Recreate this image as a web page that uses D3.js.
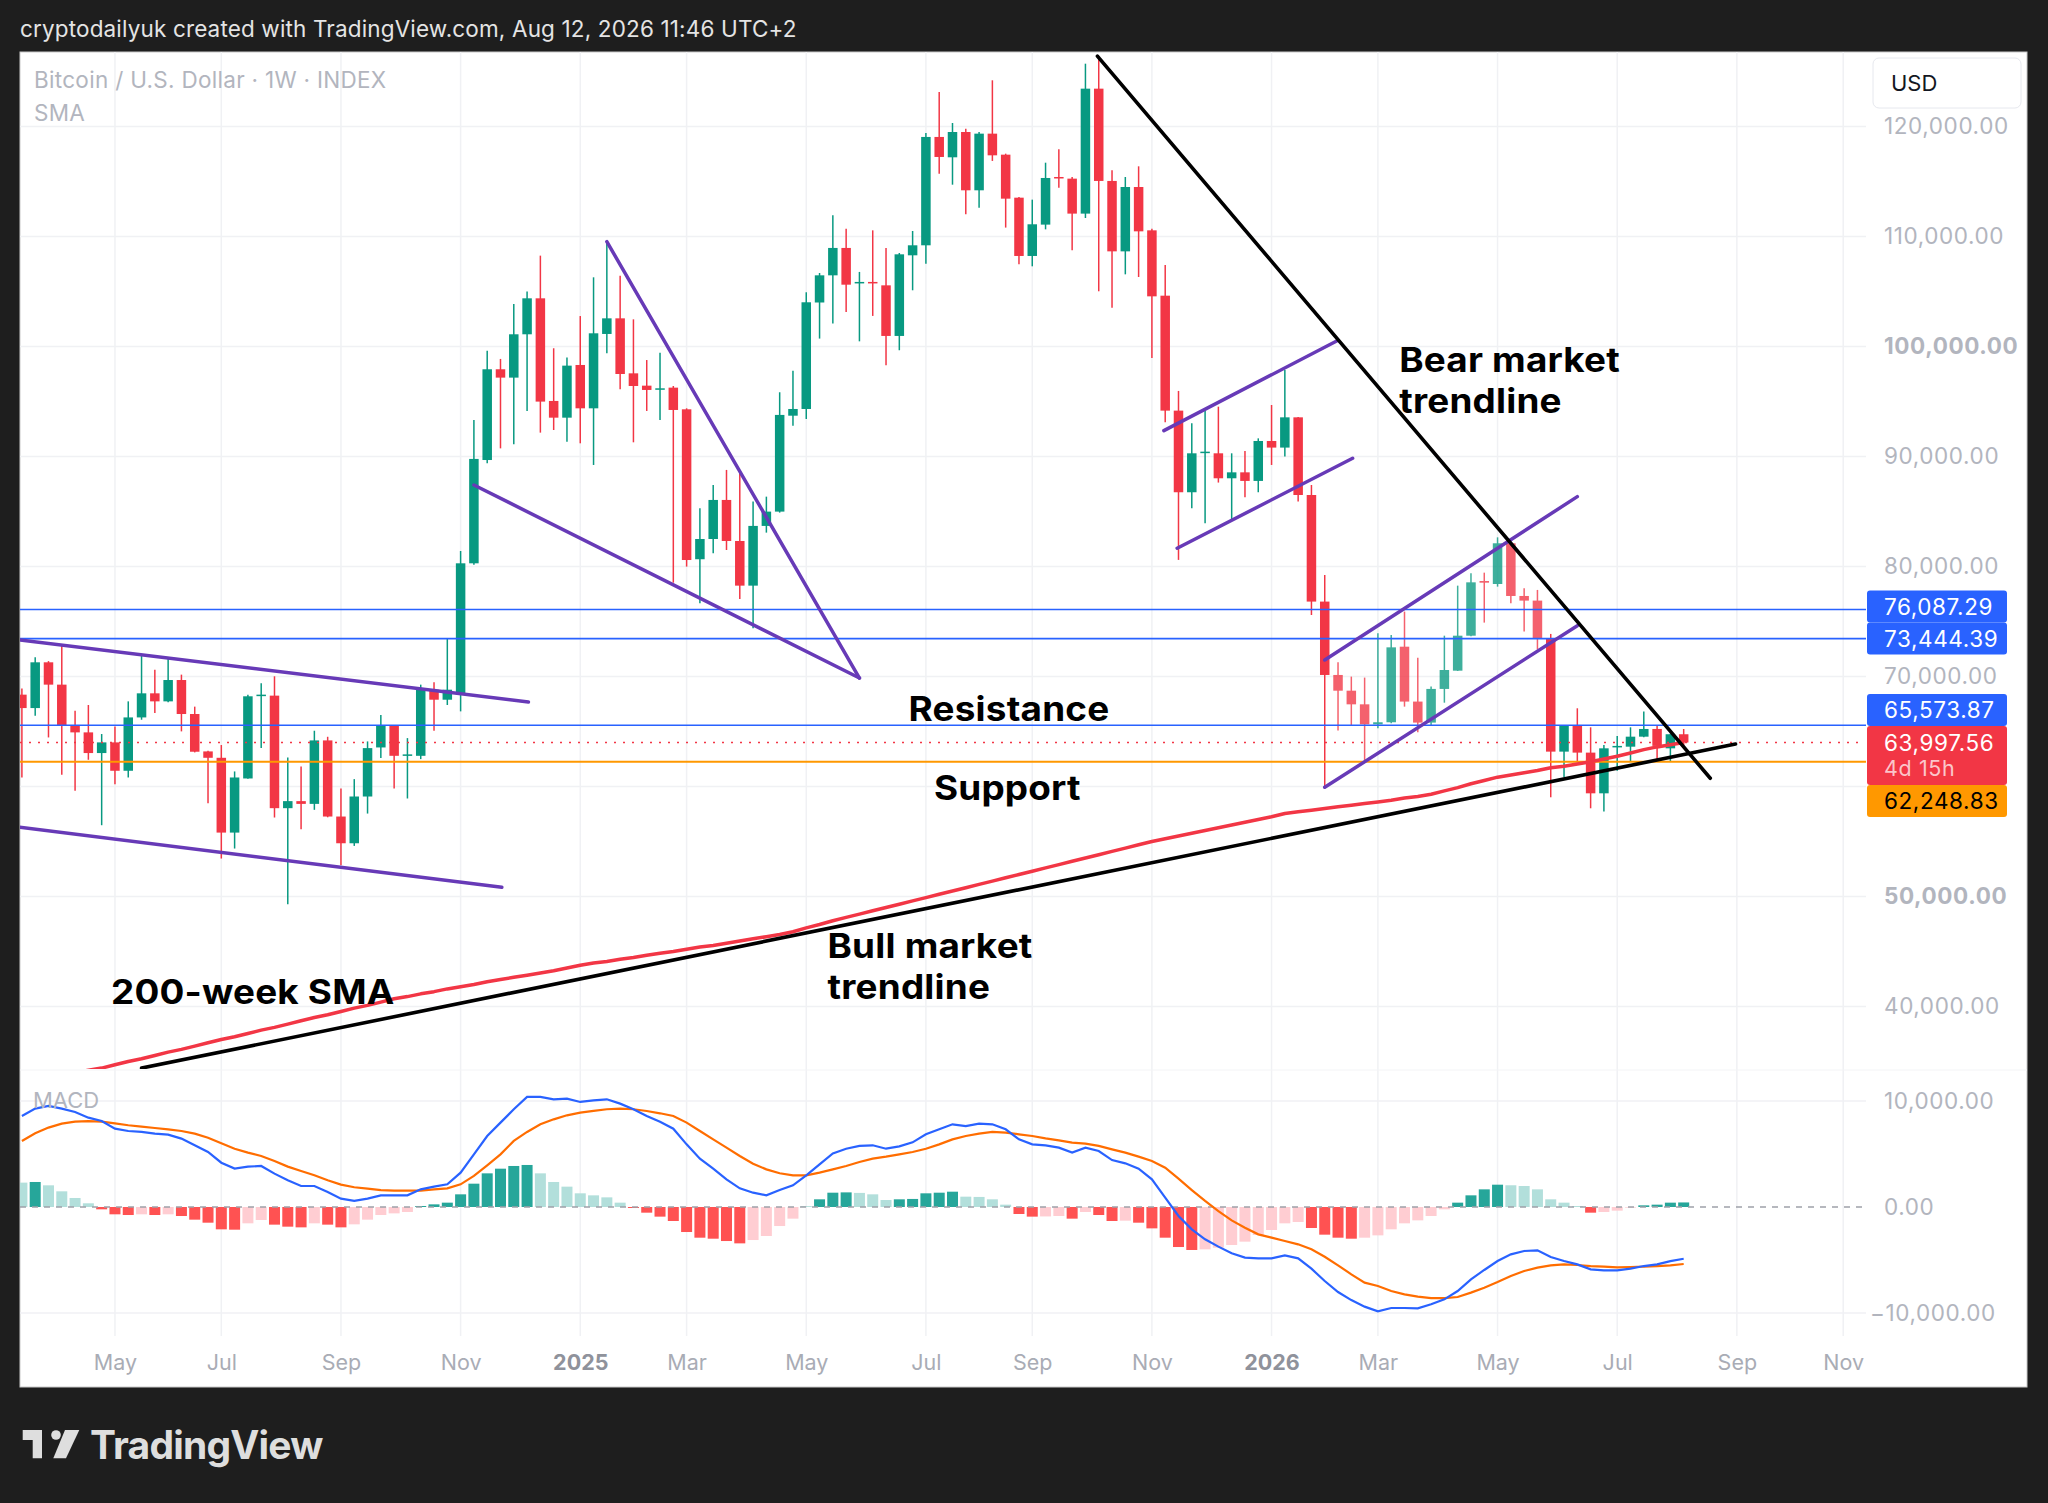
<!DOCTYPE html>
<html lang="en">
<head>
<meta charset="utf-8" />
<title>Bitcoin / U.S. Dollar 1W</title>
<script src="https://d3js.org/d3.v7.min.js"></script>
<style>
  html, body { margin: 0; padding: 0; background: #1e1e1e; }
  svg { display: block; font-family: Inter, "Noto Sans", sans-serif; }
</style>
</head>
<body>
<svg id="chart" width="2048" height="1503"></svg>
<script>
// weekly bars, bar 0 = week of 18 Mar 2024
const firstWeek = "2024-03-18";

const opens = [68350, 67130, 71290, 69260, 65590, 64920, 63040, 64010, 61430, 66280,
  68470, 67740, 69680, 66590, 63190, 62610, 55810, 60730, 68260, 68260,
  58030, 58670, 58420, 64190, 57270, 54840, 59090, 63550, 65530, 62820,
  62790, 68800, 67890, 68350, 80290, 89680, 97930, 97170, 101110, 104380,
  95050, 93530, 98320, 94380, 101140, 102560, 97560, 96440, 96110, 96260,
  94290, 80660, 82500, 86050, 82320, 78260, 83690, 84990, 93710, 94320,
  104000, 106470, 108960, 105780, 105870, 105560, 100960, 108290, 109200, 119050,
  117200, 119500, 114200, 119350, 117440, 113530, 108230, 111080, 115410, 115260,
  112080, 123440, 115050, 108650, 114500, 110560, 104620, 94170, 86750, 90350,
  90290, 88020, 88560, 87780, 91410, 90810, 93560, 86500, 76810, 70140,
  68710, 67470, 65650, 65840, 72710, 67720, 65810, 68870, 70530, 73710,
  78680, 78410, 82110, 77320, 76900, 73470, 63170, 65530, 63080, 59380,
  63560, 63620, 64530, 65230, 63470, 64750];

const highs = [68920, 71750, 71400, 72810, 66890, 67410, 64770, 65460, 67740, 71960,
  70620, 71660, 70170, 67260, 63250, 63770, 61370, 68350, 69380, 70020,
  62640, 61820, 65070, 64520, 59820, 60670, 64100, 66500, 65600, 64400,
  69260, 69470, 73480, 81410, 93320, 99620, 98870, 103860, 104990, 108260,
  99840, 98990, 102770, 106290, 109620, 106440, 102470, 98770, 99440, 96410,
  94380, 85290, 87410, 88780, 88470, 85900, 86350, 95840, 97800, 104930,
  106680, 111930, 110710, 106780, 110560, 108960, 108500, 110500, 119410, 123140,
  120320, 119800, 119500, 124200, 117530, 113590, 113350, 116710, 117930, 115410,
  125710, 126410, 116020, 115410, 116380, 110710, 107410, 95960, 93020, 94170,
  94530, 90290, 90500, 91650, 94680, 97870, 93600, 87410, 79230, 71290,
  69990, 69900, 73930, 73770, 75900, 71710, 69080, 73710, 78260, 79380,
  79440, 82650, 82260, 78020, 77870, 73870, 65600, 67110, 65380, 63780,
  64590, 65380, 66810, 65530, 64800, 65230];

const lows = [60820, 66440, 64460, 61060, 59610, 62430, 56480, 60210, 60820, 66070,
  66680, 67650, 65010, 63100, 58480, 53450, 54360, 60700, 63490, 57180,
  49290, 56120, 57880, 57200, 52840, 54600, 57540, 62580, 59820, 58910,
  62490, 65070, 67410, 66830, 80150, 89380, 90740, 91110, 94140, 92170,
  92410, 91350, 91200, 89230, 99380, 96110, 91290, 94140, 93320, 78530,
  79990, 76660, 81200, 81500, 77050, 74380, 83080, 84900, 92800, 93410,
  100720, 102080, 103140, 100470, 102780, 98290, 99660, 105110, 107530, 115710,
  114710, 112020, 112620, 116870, 110810, 107470, 107290, 110650, 114440, 108750,
  111680, 105020, 103530, 106560, 106320, 98960, 93110, 80600, 85290, 83930,
  87630, 84320, 86290, 86750, 89230, 89990, 85900, 75590, 59840, 65080,
  65500, 62260, 65290, 65750, 67260, 64930, 65590, 67620, 70500, 73650,
  74900, 78170, 76650, 74080, 72470, 59020, 60840, 62260, 58020, 57720,
  61440, 62260, 64470, 62470, 62260, 63620];

const closes = [67130, 71290, 69260, 65590, 64920, 63040, 64010, 61430, 66280, 68470,
  67740, 69680, 66590, 63160, 62610, 55810, 60820, 68200, 68350, 58030,
  58670, 58420, 64190, 57270, 54840, 59090, 63490, 65530, 62790, 62920,
  68800, 67890, 68800, 80290, 89780, 97930, 97170, 101110, 104380, 94990,
  93530, 98260, 94380, 101200, 102560, 97500, 96410, 96050, 96200, 94230,
  80590, 82500, 86050, 82320, 78260, 83690, 84990, 93780, 94320, 104020,
  106470, 108960, 105620, 105870, 105780, 100960, 108380, 109200, 119050, 117230,
  119500, 114200, 119350, 117380, 113440, 108230, 111110, 115320, 115320, 112080,
  123440, 115050, 108650, 114500, 110470, 104560, 94170, 86750, 90290, 90440,
  88020, 88560, 87780, 91410, 90810, 93560, 86500, 76810, 70140, 68710,
  67470, 65650, 65840, 72650, 67720, 65810, 68870, 70590, 73710, 78560,
  78530, 82110, 77320, 76900, 73470, 63170, 65530, 63080, 59380, 63470,
  63690, 64530, 65230, 63690, 64750, 63997.56];

// 200-week simple moving average
const sma200 = [33200, 33400, 33600, 33800, 34000, 34200, 34400, 34700, 35000, 35250,
  35550, 35850, 36100, 36400, 36700, 37000, 37250, 37550, 37850, 38100,
  38400, 38700, 39000, 39250, 39550, 39850, 40100, 40400, 40700, 40900,
  41150, 41350, 41600, 41800, 42000, 42250, 42450, 42650, 42850, 43050,
  43250, 43500, 43750, 43950, 44100, 44300, 44450, 44650, 44850, 45000,
  45200, 45400, 45550, 45750, 45950, 46150, 46350, 46550, 46800, 47150,
  47450, 47800, 48100, 48400, 48700, 49000, 49300, 49600, 49900, 50200,
  50500, 50800, 51100, 51400, 51700, 52000, 52300, 52600, 52900, 53200,
  53500, 53800, 54100, 54400, 54700, 55000, 55250, 55500, 55750, 56000,
  56250, 56500, 56750, 57000, 57250, 57550, 57700, 57850, 58000, 58150,
  58300, 58450, 58600, 58750, 58950, 59100, 59300, 59600, 59900, 60250,
  60550, 60850, 61050, 61250, 61450, 61700, 61850, 62050, 62250, 62500,
  62750, 63050, 63350, 63600, 63800, 64000];

// MACD pane
const macdLine = [8590, 9280, 9530, 9280, 8960, 8430, 8110, 7390, 7170, 7080,
  6920, 6830, 6450, 5820, 5190, 4180, 3620, 3800, 3870, 3150,
  2520, 1980, 1980, 1420, 790, 570, 790, 1100, 1100, 1100,
  1670, 1920, 2140, 3240, 4970, 6700, 7960, 9220, 10380, 10380,
  10160, 10220, 9910, 10060, 10160, 9750, 9220, 8590, 8050, 7390,
  5910, 4560, 3620, 2610, 1760, 1350, 1100, 1600, 2050, 2990,
  4030, 5060, 5500, 5760, 5820, 5500, 5720, 6100, 6860, 7330,
  7800, 7640, 7860, 7800, 7330, 6380, 5910, 5820, 5600, 5130,
  5600, 5280, 4430, 4120, 3620, 2610, 880, -850, -2110, -3050,
  -3740, -4370, -4780, -4840, -4840, -4560, -4840, -5820, -6980, -8020,
  -8780, -9400, -9840, -9530, -9530, -9560, -9180, -8710, -7930, -6830,
  -5940, -5100, -4470, -4150, -4090, -4720, -5100, -5410, -5880, -5980,
  -5980, -5820, -5570, -5410, -5100, -4880];

const signalLine = [6230, 6950, 7490, 7860, 8050, 8110, 8050, 7890, 7710, 7580,
  7450, 7330, 7170, 6920, 6540, 6010, 5500, 5130, 4810, 4340,
  3810, 3400, 2990, 2520, 2110, 1860, 1730, 1600, 1540, 1540,
  1540, 1670, 1760, 2140, 2930, 3930, 4970, 6230, 7080, 7800,
  8270, 8650, 8900, 9060, 9220, 9280, 9220, 9060, 8840, 8590,
  7960, 7170, 6380, 5600, 4810, 4090, 3550, 3180, 2990, 2990,
  3240, 3550, 3870, 4250, 4560, 4750, 4970, 5190, 5500, 5910,
  6380, 6700, 6920, 7080, 7010, 6860, 6700, 6480, 6290, 6070,
  5980, 5760, 5440, 5130, 4750, 4340, 3710, 2670, 1600, 570,
  -380, -1260, -1950, -2580, -2890, -3210, -3520, -3990, -4690, -5500,
  -6350, -7140, -7450, -7930, -8240, -8460, -8590, -8590, -8490, -8080,
  -7610, -7080, -6510, -6040, -5720, -5500, -5410, -5470, -5570, -5630,
  -5690, -5660, -5630, -5570, -5500, -5380];

const histogram = [2300, 2360, 2045, 1480, 850, 350, -220, -690, -755, -690,
  -755, -690, -850, -1195, -1480, -2107, -2140, -1540, -1225, -1665,
  -1855, -1920, -1540, -1665, -1920, -1635, -1195, -755, -600, -470,
  95, 250, 410, 1195, 2200, 3175, 3615, 3870, 3965, 3175,
  2360, 1920, 1290, 1100, 910, 410, -95, -535, -910, -1320,
  -2360, -2895, -2990, -3210, -3430, -3115, -2735, -1795, -1100, 30,
  725, 1350, 1380, 1330, 1195, 660, 725, 760, 1290, 1350,
  1445, 975, 950, 725, 220, -660, -910, -890, -850, -1100,
  -470, -755, -1320, -1290, -1480, -2015, -2895, -3775, -4055, -3995,
  -3835, -3585, -3270, -2640, -2170, -1540, -1415, -1980, -2610, -2895,
  -2990, -2895, -2675, -2105, -1540, -1260, -850, -220, 410, 1100,
  1665, 2105, 2050, 1980, 1665, 725, 410, 95, -535, -470,
  -345, -60, 155, 220, 410, 430];

// axis ticks
const priceTicks = [40000, 50000, 60000, 70000, 80000, 90000, 100000, 110000, 120000];
const macdTicks = [-10000, 0, 10000];
const timeTickDates = ["2024-05-06", "2024-07-01", "2024-09-02", "2024-11-04", "2025-01-06",
  "2025-03-03", "2025-05-05", "2025-07-07", "2025-09-01", "2025-11-03", "2026-01-05",
  "2026-03-02", "2026-05-04", "2026-07-06", "2026-09-07", "2026-11-02"];
const timeTickLabels = ["May", "Jul", "Sep", "Nov", "2025", "Mar", "May", "Jul", "Sep", "Nov",
  "2026", "Mar", "May", "Jul", "Sep", "Nov"];

// horizontal levels drawn on the chart
const resistanceLevels = [76087.29, 73444.39, 65573.87];
const supportLevel = 62248.83;
const lastPrice = closes[closes.length - 1];

// drawn trendlines as [bar, price] end points
const bearTrend = [[80.9, 126400], [127.0, 60750]];
const bullTrend = [[9.0, 34400], [128.9, 63860]];
const purpleLines = [
  [[-1, 73450], [38.1, 67680]],
  [[-1, 56420], [36.1, 50840]],
  [[34.0, 87410], [63.0, 69860]],
  [[44.0, 109530], [63.0, 69860]],
  [[85.9, 92350], [98.9, 100500]],
  [[86.9, 81660], [100.1, 89840]],
  [[98.0, 71500], [117.0, 86350]],
  [[98.0, 59930], [117.0, 74620]]
];

// chart notes as [bar, price] anchors
const notes = [
  {lines: ["Bear market", "trendline"], at: [103.6, 97650]},
  {lines: ["Resistance"], at: [66.7, 65950]},
  {lines: ["Support"], at: [68.6, 58770]},
  {lines: ["Bull market", "trendline"], at: [60.6, 44380]},
  {lines: ["200-week SMA"], at: [6.7, 40230]}
];

// ---------- layout ----------
const W = 2048, H = 1503;
const plotL = 20, plotR = 1866, mainTop = 52, mainBottom = 1069, macdTop = 1071, macdBottom = 1336;
const upColor = "#089981", downColor = "#f23645";
const gridColor = "#f0f1f4", axisText = "#b2b5be";
const axisFont = "Inter, 'Noto Sans', sans-serif";

const parseDay = d3.utcParse("%Y-%m-%d");
const week0 = parseDay(firstWeek);
const barTime = i => new Date(week0.getTime() + i * 7 * 864e5);

const x = d3.scaleUtc()
  .domain([parseDay("2024-03-17"), parseDay("2026-11-14")])
  .range([plotL, plotR]);
const y = d3.scaleLinear().domain([40000, 120000]).range([1006.5, 126.5]);
const ym = d3.scaleLinear().domain([-10000, 10000]).range([1313, 1101]);

const svg = d3.select("#chart");
svg.append("rect").attr("width", W).attr("height", H).attr("fill", "#1e1e1e");

svg.append("text")
  .attr("x", 20).attr("y", 37)
  .attr("fill", "#e4e4e4").attr("font-size", 22.5).attr("letter-spacing", 0.15)
  .text("cryptodailyuk created with TradingView.com, Aug 12, 2026 11:46 UTC+2");

// white panel
svg.append("rect")
  .attr("x", 20).attr("y", 52).attr("width", 2007).attr("height", 1335)
  .attr("fill", "#ffffff").attr("stroke", "#c9c9c9").attr("stroke-width", 1);

const defs = svg.append("defs");
defs.append("clipPath").attr("id", "clipMain").append("rect")
  .attr("x", plotL).attr("y", mainTop).attr("width", plotR - plotL).attr("height", mainBottom - mainTop);
defs.append("clipPath").attr("id", "clipMacd").append("rect")
  .attr("x", plotL).attr("y", macdTop).attr("width", plotR - plotL).attr("height", macdBottom - macdTop);

// grid
const grid = svg.append("g");
grid.selectAll(".vg").data(timeTickDates).enter().append("line")
  .attr("x1", d => x(parseDay(d))).attr("x2", d => x(parseDay(d)))
  .attr("y1", mainTop).attr("y2", macdBottom)
  .attr("stroke", gridColor).attr("stroke-width", 1.5);
grid.selectAll(".hg").data(priceTicks).enter().append("line")
  .attr("x1", plotL).attr("x2", plotR)
  .attr("y1", d => y(d)).attr("y2", d => y(d))
  .attr("stroke", gridColor).attr("stroke-width", 1.5);
grid.selectAll(".mg").data(macdTicks.filter(d => d !== 0)).enter().append("line")
  .attr("x1", plotL).attr("x2", plotR)
  .attr("y1", d => ym(d)).attr("y2", d => ym(d))
  .attr("stroke", gridColor).attr("stroke-width", 1.5);
grid.append("line")
  .attr("x1", plotL).attr("x2", 2027).attr("y1", 1070).attr("y2", 1070)
  .attr("stroke", "#f3f4f6").attr("stroke-width", 1);

// ---------- main pane ----------
const main = svg.append("g").attr("clip-path", "url(#clipMain)");

const bars = closes.map((c, i) => ({i, t: barTime(i), o: opens[i], h: highs[i], l: lows[i], c: c}));
// candles inside the spring channel look faded in the snapshot
const faded = i => i >= 99 && i <= 114;

const candles = main.append("g").selectAll("g").data(bars).enter().append("g")
  .attr("opacity", d => faded(d.i) ? 0.78 : 1);
candles.append("line")
  .attr("x1", d => x(d.t)).attr("x2", d => x(d.t))
  .attr("y1", d => y(d.h)).attr("y2", d => y(d.l))
  .attr("stroke", d => d.c >= d.o ? upColor : downColor).attr("stroke-width", 1.5);
candles.append("rect")
  .attr("x", d => x(d.t) - 4.75).attr("width", 9.5)
  .attr("y", d => y(Math.max(d.o, d.c)))
  .attr("height", d => Math.max(1.5, Math.abs(y(d.o) - y(d.c))))
  .attr("fill", d => d.c >= d.o ? upColor : downColor);

// horizontal levels
main.selectAll(".lvl").data(resistanceLevels).enter().append("line")
  .attr("x1", plotL).attr("x2", plotR)
  .attr("y1", d => y(d)).attr("y2", d => y(d))
  .attr("stroke", "#2962ff").attr("stroke-width", 1.6);
main.append("line")
  .attr("x1", plotL).attr("x2", plotR)
  .attr("y1", y(supportLevel)).attr("y2", y(supportLevel))
  .attr("stroke", "#ff9800").attr("stroke-width", 2);
main.append("line")
  .attr("x1", plotL).attr("x2", 1860)
  .attr("y1", y(lastPrice)).attr("y2", y(lastPrice))
  .attr("stroke", downColor).attr("stroke-width", 1.6).attr("stroke-dasharray", "2,7");

// 200-week SMA
main.append("path")
  .datum(sma200)
  .attr("fill", "none").attr("stroke", "#f23645").attr("stroke-width", 3.5)
  .attr("stroke-linejoin", "round")
  .attr("d", d3.line().x((d, i) => x(barTime(i))).y(d => y(d)));

// trendlines
const segment = (pts, color, width) => main.append("line")
  .attr("x1", x(barTime(pts[0][0]))).attr("y1", y(pts[0][1]))
  .attr("x2", x(barTime(pts[1][0]))).attr("y2", y(pts[1][1]))
  .attr("stroke", color).attr("stroke-width", width).attr("stroke-linecap", "round");
purpleLines.forEach(p => segment(p, "#673ab7", 3.5));
segment(bullTrend, "#000000", 3.6);
segment(bearTrend, "#000000", 3.6);

// notes: slightly wide bold lettering, one text per line
const noteG = svg.append("g").attr("font-size", 33.5).attr("font-weight", 700)
  .attr("letter-spacing", 0.2).attr("fill", "#000");
notes.forEach(n => {
  const nx = x(barTime(n.at[0])), ny = y(n.at[1]);
  n.lines.forEach((s, k) => noteG.append("text")
    .attr("transform", `translate(${nx},${ny + k * 40.5}) scale(1.1,1)`)
    .text(s));
});

// ---------- MACD pane ----------
const macd = svg.append("g").attr("clip-path", "url(#clipMacd)");
macd.selectAll("rect").data(histogram).enter().append("rect")
  .attr("x", (d, i) => x(barTime(i)) - 5.5).attr("width", 11)
  .attr("y", d => d >= 0 ? ym(d) : ym(0))
  .attr("height", d => Math.abs(ym(d) - ym(0)))
  .attr("fill", (d, i) => {
    const prev = i > 0 ? histogram[i - 1] : d;
    if (d >= 0) return d > prev ? "#26a69a" : "#b2dfdb";
    return d < prev ? "#ff5252" : "#ffcdd2";
  });
macd.append("line")
  .attr("x1", plotL).attr("x2", plotR).attr("y1", ym(0)).attr("y2", ym(0))
  .attr("stroke", "#9ea1a9").attr("stroke-width", 1.5).attr("stroke-dasharray", "6,6");
const mline = d3.line().x((d, i) => x(barTime(i))).y(d => ym(d));
macd.append("path").datum(signalLine)
  .attr("fill", "none").attr("stroke", "#ff6d00").attr("stroke-width", 2.2).attr("d", mline);
macd.append("path").datum(macdLine)
  .attr("fill", "none").attr("stroke", "#2962ff").attr("stroke-width", 2.2).attr("d", mline);

// ---------- price labels for the levels, stacked so they do not overlap ----------
const boxH = 32, boxX = 1867, boxW = 140;
const lastY = y(lastPrice);
const redTop = lastY - 16.5, redH = 59;
const labelBoxes = [];
let limit = redTop;
resistanceLevels.filter(p => p > lastPrice).sort((a, b) => a - b).forEach(p => {
  let top = y(p) - boxH / 2;
  if (top + boxH > limit) top = limit - boxH;
  labelBoxes.push({p, top, h: boxH, fill: "#2962ff", text: "#ffffff"});
  limit = top;
});
let below = redTop + redH;
[supportLevel].forEach(p => {
  let top = y(p) - boxH / 2;
  if (top < below) top = below;
  labelBoxes.push({p, top, h: boxH, fill: "#ff9800", text: "#000000"});
  below = top + boxH;
});
const covered = yy => yy > redTop - 8 && yy < redTop + redH + 8 ||
  labelBoxes.some(b => yy > b.top - 8 && yy < b.top + b.h + 8);

// ---------- axes ----------
const priceAxis = svg.append("g")
  .attr("transform", "translate(1876,0)")
  .call(d3.axisRight(y).tickValues(priceTicks).tickFormat(d3.format(",.2f")).tickSize(0).tickPadding(8));
priceAxis.select(".domain").remove();
// labels hidden behind the level boxes are not drawn
priceAxis.selectAll(".tick").filter(d => covered(y(d))).remove();
priceAxis.selectAll("text")
  .attr("font-family", axisFont).attr("font-size", 22.5)
  .attr("fill", axisText).attr("letter-spacing", 0.6)
  .attr("font-weight", d => (d === 50000 || d === 100000) ? 700 : 400);

const macdAxis = svg.append("g")
  .attr("transform", "translate(1876,0)")
  .call(d3.axisRight(ym).tickValues(macdTicks).tickFormat(d3.format(",.2f")).tickSize(0).tickPadding(8));
macdAxis.select(".domain").remove();
macdAxis.selectAll("text")
  .attr("font-family", axisFont).attr("font-size", 22.5)
  .attr("fill", axisText).attr("letter-spacing", 0.6)
  .attr("x", d => d < 0 ? -6 : 8);

const timeAxis = svg.append("g")
  .attr("transform", "translate(0,1355)")
  .call(d3.axisBottom(x).tickValues(timeTickDates.map(parseDay))
    .tickFormat((d, i) => timeTickLabels[i]).tickSize(0).tickPadding(0));
timeAxis.select(".domain").remove();
timeAxis.selectAll("text")
  .attr("font-family", axisFont).attr("font-size", 21.5)
  .attr("fill", (d, i) => /^\d+$/.test(timeTickLabels[i]) ? "#8f929b" : "#a9acb5")
  .attr("font-weight", (d, i) => /^\d+$/.test(timeTickLabels[i]) ? 700 : 400);

const lab = svg.append("g").attr("font-size", 22.5).attr("letter-spacing", 0.6);
labelBoxes.forEach(b => {
  lab.append("rect").attr("x", boxX).attr("y", b.top).attr("width", boxW).attr("height", b.h)
    .attr("rx", 3).attr("fill", b.fill);
  lab.append("text").attr("x", 1884).attr("y", b.top + b.h / 2).attr("dy", "0.36em")
    .attr("fill", b.text).text(d3.format(",.2f")(b.p));
});
lab.append("rect").attr("x", boxX).attr("y", redTop).attr("width", boxW).attr("height", redH)
  .attr("rx", 3).attr("fill", downColor);
lab.append("text").attr("x", 1884).attr("y", lastY).attr("dy", "0.36em")
  .attr("fill", "#ffffff").text(d3.format(",.2f")(lastPrice));
lab.append("text").attr("x", 1884).attr("y", lastY + 27).attr("dy", "0.3em")
  .attr("font-size", 21.5).attr("fill", "#ffffff").attr("fill-opacity", 0.72).text("4d 15h");

// legends
svg.append("text").attr("x", 34).attr("y", 88).attr("font-size", 22.5).attr("letter-spacing", 0.3)
  .attr("fill", axisText).text("Bitcoin / U.S. Dollar \u00b7 1W \u00b7 INDEX");
svg.append("text").attr("x", 34).attr("y", 121).attr("font-size", 22.5).attr("letter-spacing", 0.3)
  .attr("fill", axisText).text("SMA");
svg.append("text").attr("x", 33).attr("y", 1108).attr("font-size", 22).attr("fill", axisText)
  .text("MACD");

svg.append("rect").attr("x", 1873).attr("y", 58).attr("width", 148).attr("height", 50)
  .attr("rx", 6).attr("fill", "#ffffff").attr("stroke", "#e6e8ee");
svg.append("text").attr("x", 1891).attr("y", 83).attr("dy", "0.36em")
  .attr("font-size", 22).attr("fill", "#131722").text("USD");

// footer logo
const logo = svg.append("g").attr("transform", "translate(22.7,1430)").attr("fill", "#dedede");
logo.append("path").attr("d", "M0,0 H19.3 V28.3 H10 V10 H0 Z");
logo.append("circle").attr("cx", 33.3).attr("cy", 5).attr("r", 4.8);
logo.append("path").attr("d", "M42.3,0 H56.6 L43.3,28.3 H30.6 Z");
svg.append("text").attr("x", 90).attr("y", 1458.5)
  .attr("font-size", 39).attr("font-weight", 700).attr("letter-spacing", -0.8)
  .attr("fill", "#dedede").text("TradingView");
</script>
</body>
</html>
